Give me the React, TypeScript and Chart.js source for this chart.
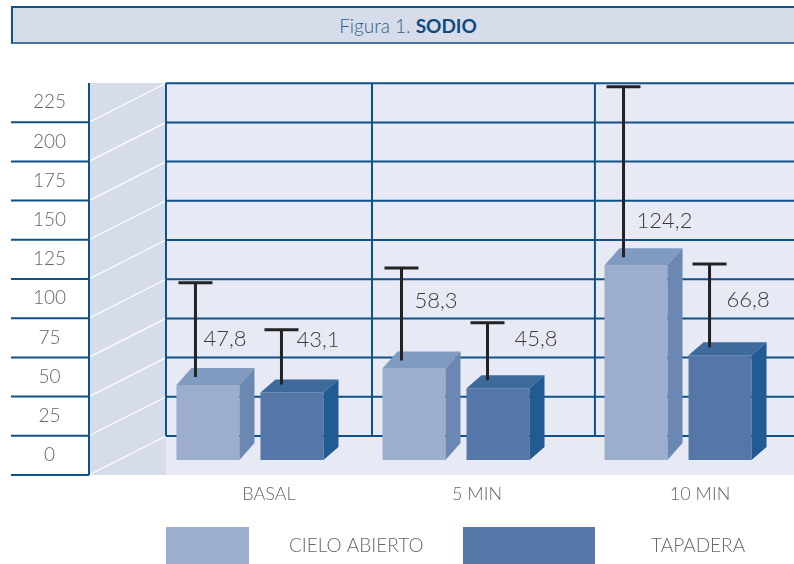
import React, { useEffect, useRef } from "react";
import { Chart, CategoryScale, registerables } from "chart.js";

const categories = ["BASAL", "5 MIN", "10 MIN"];
const yTicks = [0, 25, 50, 75, 100, 125, 150, 175, 200, 225];
const cieloAbierto = [47.8, 58.3, 124.2];
const tapadera = [43.1, 45.8, 66.8];
const cieloUpper = [113, 122.5, 238];
const tapaderaUpper = [83, 87.5, 125];

// Styling only
const FONT = "Lato";
const LINE = "#0f5189";
const WALL = "#e7eaf4";
const SIDE_WALL = "#d6dce9";
const TEXT = "#666666";
const BAR_SHIFT = [-20.7, -24, -11.3];
const LABEL_SHIFT = [-1.7, -3, 10.7];
const DIVIDERS = [0.328, 0.683];
const SERIES_STYLE = [
  { front: "#9dadce", top: "#819ac0", side: "#6b88b3", dy: 17, whisker: -12.5 },
  { front: "#5477a8", top: "#3f6a9c", side: "#225b92", dy: 13, whisker: -10.5 },
];
const VALUE_LABEL_OFFSET = [
  [{ dx: 8, dy: -46 }, { dx: 13, dy: -68 }, { dx: 13, dy: -44 }],
  [{ dx: 15, dy: -53 }, { dx: 27, dy: -49 }, { dx: 17, dy: -55 }],
];
const LEGEND_ITEMS = [
  { left: 166, right: 249, textX: 289 },
  { left: 463, right: 595, textX: 651 },
];

class GroupCategoryScale extends CategoryScale {
  static id = "groupCategory";
  getPixelForValue(value: any) {
    const base = super.getPixelForValue(value);
    const idx = typeof value === "number" ? value : (this as any).parse(value);
    return base + (BAR_SHIFT[idx] ?? 0);
  }
  getPixelForTick(index: number) {
    const ticks = (this as any).ticks;
    if (index < 0 || index > ticks.length - 1) return null as any;
    const v = ticks[index].value;
    return CategoryScale.prototype.getPixelForValue.call(this, v) + (LABEL_SHIFT[v] ?? 0);
  }
}

Chart.register(...registerables, GroupCategoryScale as any);

const zeroScalePadding = (s: any) => {
  s.paddingTop = 0;
  s.paddingBottom = 0;
  s.paddingLeft = 0;
  s.paddingRight = 0;
};

const scenePlugin = {
  id: "scene",
  beforeDraw(chart: any) {
    const { ctx, chartArea, scales } = chart;
    const y = scales.y;
    const wallLeft = chartArea.left;
    const stripLeft = wallLeft - 77;
    const right = chartArea.right;
    const top = chartArea.top;
    const bottom = chartArea.bottom;
    ctx.save();
    ctx.fillStyle = SIDE_WALL;
    ctx.fillRect(stripLeft, top, wallLeft - stripLeft, bottom - top);
    ctx.fillStyle = WALL;
    ctx.fillRect(wallLeft, top, right - wallLeft, bottom - top);

    yTicks.forEach((t) => {
      const p = y.getPixelForValue(t);
      const front = p + 15;
      const back = p - 24;
      ctx.strokeStyle = "#ffffff";
      ctx.lineWidth = 1.2;
      ctx.beginPath();
      ctx.moveTo(stripLeft, front);
      ctx.lineTo(wallLeft, back);
      ctx.stroke();
      ctx.strokeStyle = LINE;
      ctx.lineWidth = 2;
      ctx.beginPath();
      ctx.moveTo(11, front);
      ctx.lineTo(stripLeft, front);
      ctx.moveTo(wallLeft, back);
      ctx.lineTo(right, back);
      ctx.stroke();
    });

    const wallBottom = y.getPixelForValue(0) - 24;
    ctx.strokeStyle = LINE;
    ctx.lineWidth = 2;
    ctx.beginPath();
    ctx.moveTo(stripLeft, top);
    ctx.lineTo(stripLeft, bottom);
    ctx.moveTo(wallLeft, top);
    ctx.lineTo(wallLeft, wallBottom);
    DIVIDERS.forEach((d) => {
      const x = wallLeft + (right - wallLeft) * d;
      ctx.moveTo(x, top);
      ctx.lineTo(x, wallBottom);
    });
    ctx.stroke();
    ctx.restore();
  },
  afterDatasetsDraw(chart: any) {
    const { ctx, scales } = chart;
    const y = scales.y;
    const uppers = [cieloUpper, tapaderaUpper];
    ctx.save();
    chart.data.datasets.forEach((ds: any, di: number) => {
      const st = SERIES_STYLE[di];
      const meta = chart.getDatasetMeta(di);
      meta.data.forEach((bar: any, i: number) => {
        const half = bar.width / 2;
        const l = bar.x - half;
        const r = bar.x + half;
        const t = bar.y;
        const b = bar.base;
        const dx = 15;
        const dy = st.dy;
        ctx.fillStyle = st.top;
        ctx.beginPath();
        ctx.moveTo(l, t);
        ctx.lineTo(l + dx, t - dy);
        ctx.lineTo(r + dx, t - dy);
        ctx.lineTo(r, t);
        ctx.closePath();
        ctx.fill();
        ctx.fillStyle = st.side;
        ctx.beginPath();
        ctx.moveTo(r, t);
        ctx.lineTo(r + dx, t - dy);
        ctx.lineTo(r + dx, b - dy);
        ctx.lineTo(r, b);
        ctx.closePath();
        ctx.fill();

        const wx = bar.x + st.whisker;
        const cap = y.getPixelForValue(uppers[di][i]);
        ctx.strokeStyle = "#222222";
        ctx.lineWidth = 3;
        ctx.beginPath();
        ctx.moveTo(wx, t - 8);
        ctx.lineTo(wx, cap);
        ctx.moveTo(wx - 17, cap);
        ctx.lineTo(wx + 17, cap);
        ctx.stroke();

        const off = VALUE_LABEL_OFFSET[di][i];
        ctx.fillStyle = "#3a3a3a";
        ctx.font = `300 22px ${FONT}`;
        ctx.textAlign = "left";
        ctx.textBaseline = "middle";
        ctx.fillText(ds.data[i].toFixed(1).replace(".", ","), wx + off.dx, t + off.dy);
      });
    });

    chart.data.datasets.forEach((ds: any, di: number) => {
      const item = LEGEND_ITEMS[di];
      ctx.fillStyle = SERIES_STYLE[di].front;
      ctx.fillRect(item.left, 527, item.right - item.left, 37);
      ctx.fillStyle = TEXT;
      ctx.font = `300 19px ${FONT}`;
      ctx.textAlign = "left";
      ctx.textBaseline = "middle";
      ctx.fillText(ds.label, item.textX, 546);
    });
    ctx.restore();
  },
};

export default function App() {
  const ref = useRef<HTMLCanvasElement | null>(null);
  useEffect(() => {
    document.body.style.margin = "0";
    const chart = new Chart(ref.current as HTMLCanvasElement, {
      type: "bar",
      data: {
        labels: categories,
        datasets: [
          { label: "CIELO ABIERTO", data: cieloAbierto, backgroundColor: SERIES_STYLE[0].front },
          { label: "TAPADERA", data: tapadera, backgroundColor: SERIES_STYLE[1].front },
        ],
      },
      options: {
        animation: false,
        responsive: false,
        devicePixelRatio: 1,
        categoryPercentage: 0.8155,
        barPercentage: 0.75,
        layout: {
          autoPadding: false,
          padding: { left: 11, top: 83, right: 0, bottom: 49 },
        },
        plugins: { legend: { display: false }, tooltip: { enabled: false }, title: { display: false } },
        scales: {
          x: {
            type: "groupCategory",
            offset: true,
            grid: { display: false },
            border: { display: false },
            ticks: { color: TEXT, font: { family: FONT, size: 18, weight: "300" }, padding: 0, maxRotation: 0 },
            afterFit: (s: any) => { s.height = 40; zeroScalePadding(s); },
          },
          y: {
            min: -9.57,
            max: 240.43,
            grid: { display: false },
            border: { display: false },
            afterBuildTicks: (s: any) => { s.ticks = yTicks.map((value) => ({ value })); },
            afterFit: (s: any) => { s.width = 155; zeroScalePadding(s); },
            ticks: {
              color: TEXT,
              font: { family: FONT, size: 19, weight: "300" },
              labelOffset: -5,
              crossAlign: "center",
              padding: 92,
              autoSkip: false,
            },
          },
        },
      } as any,
      plugins: [scenePlugin],
    });
    return () => chart.destroy();
  }, []);

  return (
    <div style={{ position: "absolute", left: 0, top: 0, width: 794, height: 564, background: "#fff", overflow: "hidden" }}>
      <canvas ref={ref} width={794} height={564} style={{ position: "absolute", left: 0, top: 0, display: "block" }} />
      <div
        style={{
          position: "absolute",
          left: 11,
          top: 6,
          width: 783,
          height: 38,
          boxSizing: "border-box",
          background: SIDE_WALL,
          borderTop: `2px solid ${LINE}`,
          borderLeft: `2px solid ${LINE}`,
          borderBottom: "2px solid #4a76a5",
          display: "flex",
          alignItems: "center",
          justifyContent: "center",
          paddingLeft: 9,
          fontFamily: FONT,
          fontSize: 19,
          fontWeight: 300,
          color: "#2a5f94",
        }}
      >
        <span>
          Figura 1. <b style={{ color: "#0e4a80", fontWeight: 700 }}>SODIO</b>
        </span>
      </div>
    </div>
  );
}
